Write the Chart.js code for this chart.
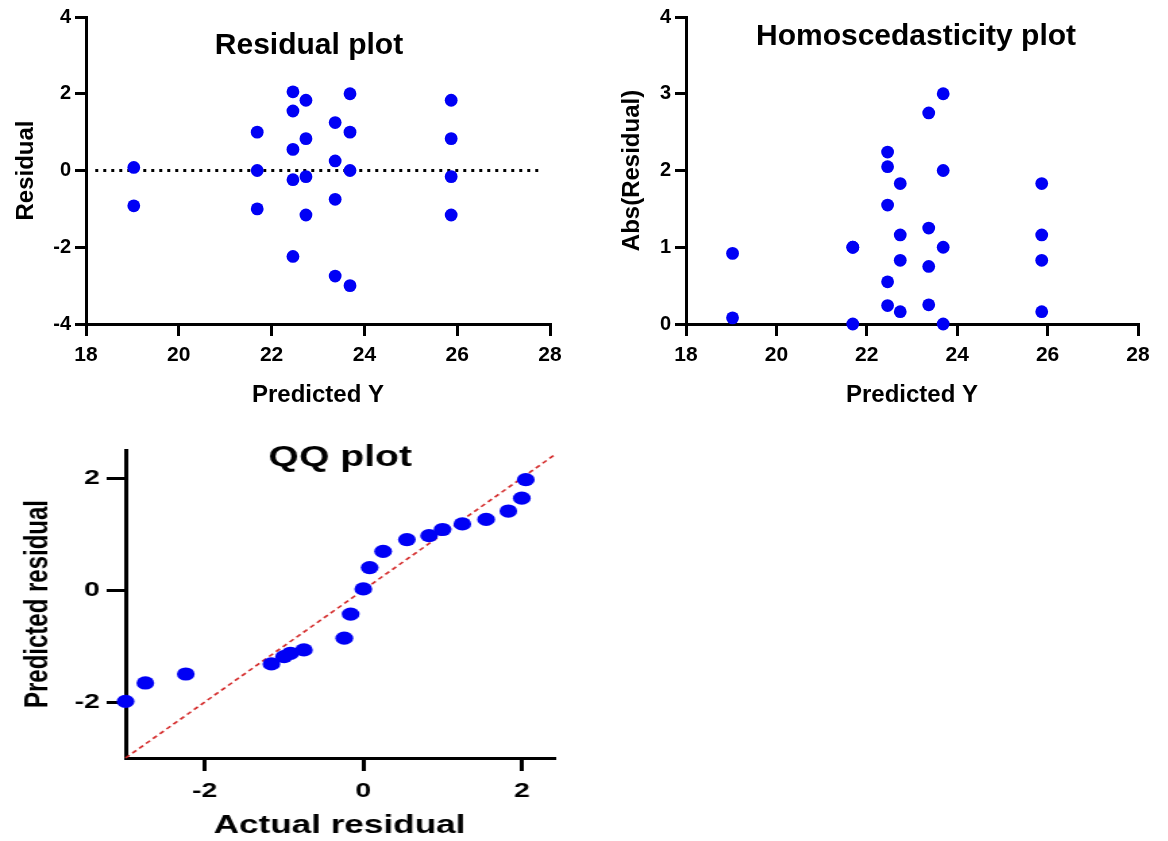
<!DOCTYPE html>
<html><head><meta charset="utf-8">
<script src="https://cdn.jsdelivr.net/npm/chart.js@4.4.1/dist/chart.umd.min.js"></script>
<style>
html,body{margin:0;padding:0;background:#fff;width:1168px;height:841px;overflow:hidden}
.p{position:absolute}
#w1{left:0;top:0;width:580px;height:410px}
#w2{left:580px;top:0;width:588px;height:410px}
#w3{left:0;top:430px;width:430px;height:411px;transform:scaleX(1.35);transform-origin:0 0}
</style></head><body>
<div id="w1" class="p"><canvas id="c1" width="580" height="410"></canvas></div>
<div id="w2" class="p"><canvas id="c2" width="588" height="410"></canvas></div>
<div id="w3" class="p"><canvas id="c3" width="430" height="411"></canvas></div>
<script>
// ---------- data ----------
const predictedY = [19.03,19.03, 21.69,21.69,21.69, 22.46,22.46,22.46,22.46,22.46, 22.74,22.74,22.74,22.74, 23.37,23.37,23.37,23.37, 23.69,23.69,23.69,23.69, 25.87,25.87,25.87,25.87];
const residuals  = [0.08,-0.92, 1.0,0.0,-1.0, 2.05,1.55,0.55,-0.24,-2.24, 1.83,0.83,-0.16,-1.16, 1.25,0.25,-0.75,-2.75, 2.0,1.0,0.0,-3.0, 1.83,0.83,-0.16,-1.16];
const absResiduals = [0.08,0.92, 1.0,0.0,1.0, 2.05,1.55,0.55,0.24,2.24, 1.83,0.83,0.16,1.16, 1.25,0.25,0.75,2.75, 2.0,1.0,0.0,3.0, 1.83,0.83,0.16,1.16];
const zeroLineX = [18.2, 27.85];
const zeroLineY = [0, 0];
const qqActual    = [-3.0,-2.75,-2.24,-1.16,-1.0,-0.92,-0.75,-0.24,-0.16,0.0,0.08,0.25,0.55,0.83,1.0,1.25,1.55,1.83,2.0,2.05];
const qqPredicted = [-1.99,-1.66,-1.50,-1.32,-1.19,-1.13,-1.07,-0.86,-0.43,0.02,0.40,0.69,0.90,0.97,1.08,1.18,1.26,1.41,1.64,1.97];
const identityX = [-3, 2.4];
const identityY = [-3, 2.4];
const residualTicksX = [18,20,22,24,26,28];
const residualTicksY = [-4,-2,0,2,4];
const absTicksY = [0,1,2,3,4];
const qqTicks = [-2, 0, 2];

// ---------- helpers ----------
const FAM = '"Liberation Sans", Arial, Helvetica, sans-serif';
const BLUE = '#0000F5';
const pts = (xs, ys) => xs.map((x, i) => ({x, y: ys[i]}));

const panelTitle = {
  id: 'panelTitle',
  afterDraw(chart, args, o) {
    if (!o || !o.text) return;
    const ctx = chart.ctx;
    ctx.save();
    ctx.font = o.font;
    ctx.fillStyle = '#000';
    ctx.textAlign = 'center';
    ctx.textBaseline = 'middle';
    ctx.fillText(o.text, o.x, o.y);
    ctx.restore();
  }
};

function gridOpts(len) {
  return {display: true, drawOnChartArea: false, drawTicks: true, tickLength: len, tickWidth: 3, tickColor: '#000', color: '#000', lineWidth: 3};
}
const borderOpts = {display: true, color: '#000', width: 3};

function topChart(id, yVals, yMin, yMax, yTicks, yTitle, yTitlePad, title, titleX, titleY, leftW, extraSets) {
  const sets = (extraSets || []).concat([{
    type: 'scatter', data: pts(predictedY, yVals),
    backgroundColor: BLUE, borderColor: BLUE, borderWidth: 0,
    pointRadius: 6.4, pointHoverRadius: 6.4, clip: false, order: 1
  }]);
  return new Chart(document.getElementById(id), {
    type: 'scatter',
    data: {datasets: sets},
    options: {
      responsive: false, animation: false, events: [],
      layout: {padding: {left: 0, top: 17, right: 30, bottom: 0}},
      plugins: {legend: {display: false}, tooltip: {enabled: false},
        panelTitle: {text: title, x: titleX, y: titleY, font: 'bold 30px ' + FAM}},
      scales: {
        x: {
          type: 'linear', min: 18, max: 28, border: borderOpts, grid: gridOpts(12),
          afterBuildTicks: s => { s.ticks = residualTicksX.map(v => ({value: v})); },
          afterFit: s => { s.height = 86; },
          ticks: {color: '#000', padding: 7, font: {family: FAM, size: 21, weight: 'bold'}},
          title: {display: true, text: 'Predicted Y', color: '#000', font: {family: FAM, size: 24, weight: 'bold'}, padding: {top: 0, bottom: 0}}
        },
        y: {
          type: 'linear', min: yMin, max: yMax, border: borderOpts, grid: gridOpts(11),
          afterBuildTicks: s => { s.ticks = yTicks.map(v => ({value: v})); },
          afterFit: s => { s.width = leftW; },
          ticks: {color: '#000', padding: 4, font: {family: FAM, size: 20, weight: 'bold'}},
          title: {display: true, text: yTitle, color: '#000', font: {family: FAM, size: 24, weight: 'bold'}, padding: {top: yTitlePad, bottom: 0}}
        }
      }
    },
    plugins: [panelTitle]
  });
}

// Residual plot
topChart('c1', residuals, -4, 4, residualTicksY, 'Residual', 12, 'Residual plot', 309, 46, 86, [{
  type: 'line', data: pts(zeroLineX, zeroLineY), borderColor: '#000', borderWidth: 3,
  borderDash: [3, 5], pointRadius: 0, fill: false, order: 2
}]);
// Homoscedasticity plot
topChart('c2', absResiduals, 0, 4, absTicksY, 'Abs(Residual)', 38, 'Homoscedasticity plot', 336, 37, 106);

// QQ plot (drawn narrow, stretched horizontally like the original)
new Chart(document.getElementById('c3'), {
  type: 'scatter',
  data: {datasets: [
    {type: 'line', data: pts(identityX, identityY), borderColor: '#D42A2A', borderWidth: 1.6,
     borderDash: [4, 3], pointRadius: 0, fill: false, order: 2, clip: false},
    {type: 'scatter', data: pts(qqActual, qqPredicted), backgroundColor: BLUE, borderColor: BLUE,
     borderWidth: 0, pointRadius: 6.6, pointHoverRadius: 6.6, clip: false, order: 1}
  ]},
  options: {
    responsive: false, animation: false, events: [],
    layout: {padding: {left: 0, top: 20, right: 20, bottom: 0}},
    plugins: {legend: {display: false}, tooltip: {enabled: false},
      panelTitle: {text: 'QQ plot', x: 252, y: 28, font: 'bold 29px ' + FAM}},
    scales: {
      x: {
        type: 'linear', min: -3, max: 2.4, border: borderOpts, grid: gridOpts(13),
        afterBuildTicks: s => { s.ticks = qqTicks.map(v => ({value: v})); },
        afterFit: s => { s.height = 83; },
        ticks: {color: '#000', padding: 8, font: {family: FAM, size: 21, weight: 'bold'}},
        title: {display: true, text: 'Actual residual', color: '#000', font: {family: FAM, size: 26, weight: 'bold'}, padding: {top: 0, bottom: 0}}
      },
      y: {
        type: 'linear', min: -3, max: 2.5, border: borderOpts, grid: gridOpts(14),
        afterBuildTicks: s => { s.ticks = qqTicks.map(v => ({value: v})); },
        afterFit: s => { s.width = 93; },
        ticks: {color: '#000', padding: 5, font: {family: FAM, size: 21, weight: 'bold'}},
        title: {display: true, text: 'Predicted residual', color: '#000', font: {family: FAM, size: 24, weight: 'bold'}, padding: {top: 14, bottom: 0}}
      }
    }
  },
  plugins: [panelTitle]
});
</script>
</body></html>
